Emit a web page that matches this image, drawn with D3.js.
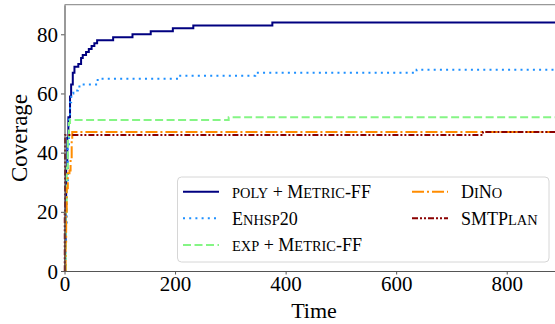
<!DOCTYPE html>
<html>
<head>
<meta charset="utf-8">
<script src="https://cdn.jsdelivr.net/npm/d3@7"></script>
<style>
  body { margin: 0; background: #fff; }
  svg text { font-family: "Liberation Serif", "DejaVu Serif", serif; fill: #000; }
</style>
</head>
<body>
<div id="chart"></div>
<script>
// coverage over time, step data
var polyTime  = [0, 1, 2, 3, 5, 7, 10, 12, 15, 18, 25, 30, 33, 39, 44, 49, 54, 59, 88, 123, 156, 196, 233, 376, 900];
var polyCov   = [0, 10, 25, 35, 45, 52, 59, 63, 67, 69, 70, 72, 73, 74, 75, 76, 77, 78, 79, 80, 81, 82, 83, 84, 84];
var enhspTime = [0, 2, 4, 6, 8, 10, 12, 16, 24, 27, 60, 207, 345, 637, 900];
var enhspCov  = [0, 15, 30, 42, 52, 57, 60, 61, 62, 63, 65, 66, 67, 68, 68];
var expTime   = [0, 2, 4, 6, 8, 10, 297, 900];
var expCov    = [0, 20, 35, 45, 50, 51, 52, 52];
var dinoTime  = [0, 2, 3, 4, 6, 9, 11, 13, 14, 900];
var dinoCov   = [0, 10, 20, 28, 33, 34, 38, 44, 47, 47];
var smtTime   = [0, 0.5, 1, 757, 900];
var smtCov    = [0, 20, 46, 47, 47];

var xTicks = [0, 200, 400, 600, 800];
var yTicks = [0, 20, 40, 60, 80];

var series = [
  { name: "poly + Metric-FF", t: polyTime, v: polyCov, color: "#000080", dash: null },
  { name: "Enhsp20", t: enhspTime, v: enhspCov, color: "#1e90ff", dash: "2,4.2" },
  { name: "exp + Metric-FF", t: expTime, v: expCov, color: "#85f585", dash: "8,3.5" },
  { name: "DiNo", t: dinoTime, v: dinoCov, color: "#ff8c00", dash: "12,3,2,3" },
  { name: "SMTPlan", t: smtTime, v: smtCov, color: "#8b0000", dash: "6,2,2,2,2,2" }
];

var W = 555, H = 324;
var margin = { top: 4.7, left: 64.5 },
  width = 497.5,
  height = 266.3;

var svg = d3.select("#chart").append("svg")
  .attr("width", W)
  .attr("height", H);

var g = svg.append("g")
  .attr("transform", `translate(${margin.left},${margin.top})`);

var x = d3.scaleLinear().domain([0, 900]).range([0, width]);
var y = d3.scaleLinear().domain([0, 90]).range([height, 0]);

var line = d3.line()
  .x(d => x(d[0]))
  .y(d => y(d[1]))
  .curve(d3.curveStepAfter);

// top spine
g.append("line")
  .attr("x1", 0).attr("x2", width)
  .attr("y1", 0).attr("y2", 0)
  .attr("stroke", "#999").attr("stroke-width", 1.2);

series.forEach(function (s) {
  var pts = s.t.map((t, i) => [t, s.v[i]]);
  g.append("path")
    .attr("d", line(pts))
    .attr("fill", "none")
    .attr("stroke", s.color)
    .attr("stroke-width", 2)
    .attr("stroke-dasharray", s.dash);
});

// axes
var xAxis = g.append("g")
  .attr("transform", `translate(0,${height})`)
  .call(d3.axisBottom(x).tickValues(xTicks).tickSize(3.5).tickSizeOuter(0).tickPadding(2));
var yAxis = g.append("g")
  .call(d3.axisLeft(y).tickValues(yTicks).tickSize(3.5).tickSizeOuter(0).tickPadding(3));

[xAxis, yAxis].forEach(function (a) {
  a.select(".domain").attr("stroke", "#555").attr("stroke-width", 1.2);
  a.selectAll(".tick line").attr("stroke", "#555");
  a.selectAll(".tick text")
    .attr("font-family", "Liberation Serif, serif")
    .attr("font-size", 21)
    .attr("fill", "#000");
});
yAxis.selectAll(".tick text").attr("dy", "0.34em");

// axis labels
svg.append("text")
  .attr("x", 314)
  .attr("y", 318)
  .attr("text-anchor", "middle")
  .attr("font-size", 22)
  .text("Time");

svg.append("text")
  .attr("transform", "translate(27,138) rotate(-90)")
  .attr("text-anchor", "middle")
  .attr("font-size", 23)
  .text("Coverage");

// legend
var leg = svg.append("g");
leg.append("rect")
  .attr("x", 177.5).attr("y", 177)
  .attr("width", 371.5).attr("height", 85)
  .attr("rx", 4)
  .attr("fill", "#fff").attr("fill-opacity", 0.8)
  .attr("stroke", "#d6d6d6");

var legPos = [
  { x: 183, ty: 191.7 },
  { x: 183, ty: 218.3 },
  { x: 183, ty: 245 },
  { x: 412, ty: 191.7 },
  { x: 412, ty: 218.3 }
];

// fake small caps: lowercase runs drawn as smaller capitals
function smallCaps(text, str, size) {
  var runs = str.match(/[a-z]+|[^a-z]+/g);
  runs.forEach(function (r) {
    var low = /[a-z]/.test(r);
    text.append("tspan")
      .attr("font-size", low ? size * 0.8 : size)
      .text(low ? r.toUpperCase() : r);
  });
}

series.forEach(function (s, i) {
  var p = legPos[i];
  leg.append("line")
    .attr("x1", p.x).attr("x2", p.x + 36)
    .attr("y1", p.ty).attr("y2", p.ty)
    .attr("stroke", s.color)
    .attr("stroke-width", 2)
    .attr("stroke-dasharray", s.dash);
  var t = leg.append("text")
    .attr("x", p.x + 49)
    .attr("y", p.ty + 6.3);
  smallCaps(t, s.name, 18);
});
</script>
</body>
</html>
